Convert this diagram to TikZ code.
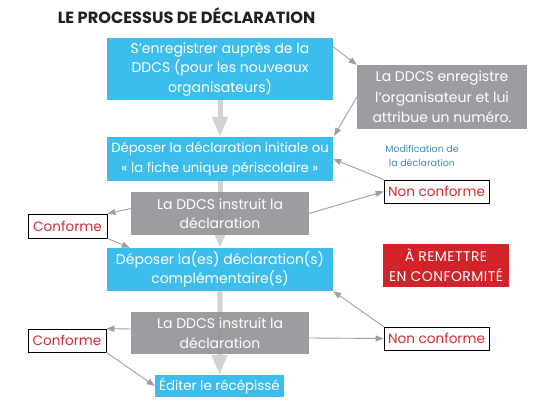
\documentclass[tikz,border=0pt]{standalone}
\usepackage{fontspec}
\setmainfont{Poppins}
\usetikzlibrary{arrows.meta,calc}
\definecolor{bluefill}{HTML}{3DBDEC}
\definecolor{grayfill}{HTML}{939598}
\definecolor{redfill}{HTML}{D2232A}
\definecolor{biggray}{HTML}{D1D3D4}
\definecolor{thingray}{HTML}{9D9FA2}
\definecolor{redtext}{HTML}{D72A31}
\definecolor{labeltext}{HTML}{3E8DB3}
\definecolor{titletext}{HTML}{231F20}
\tikzset{
  boxtext/.style={font=\fontsize{14}{19.5}\selectfont, align=center, inner sep=0pt, text=white},
  bluebox/.style={boxtext, fill=bluefill, minimum width=226pt},
  graybox/.style={boxtext, fill=grayfill, fill opacity=0.92, text opacity=1, minimum width=178pt},
  redbox/.style={boxtext, fill=redfill, font=\fontsize{14}{20}\selectfont\addfontfeatures{LetterSpace=3}},
  statebox/.style={draw=black, line width=0.8pt, fill=white, text=redtext, font=\fontsize{13.6}{16}\selectfont, inner sep=0pt, minimum height=23pt},
  bigarrow/.style={draw=biggray, line width=5pt, -{Triangle[length=20pt,width=15pt]}},
  thinarrow/.style={draw=thingray, line width=0.9pt, -{Triangle[length=8pt,width=6pt]}}
}
\begin{document}
\begin{tikzpicture}[x=1pt,y=-1pt]
\useasboundingbox (0,0) rectangle (540,411);
\node[font=\fontsize{16.2}{18}\selectfont\bfseries, text=titletext, inner sep=0pt] (title) at (186.5,16) {LE PROCESSUS DE DÉCLARATION};
% blue boxes
\node[bluebox, minimum height=62pt] (b1) at (220,69) {S’enregistrer auprès de la\\DDCS (pour les nouveaux\\organisateurs)};
\node[bluebox, minimum height=44pt, font=\fontsize{13.2}{19.5}\selectfont] (b2) at (220,159) {Déposer la déclaration initiale ou\\« la fiche unique périscolaire »};
\node[bluebox, minimum height=43pt] (b3) at (220,269.5) {Déposer la(es) déclaration(s)\\complémentaire(s)};
\node[bluebox, minimum width=129pt, minimum height=22pt, font=\fontsize{13.4}{16}\selectfont] (b4) at (219.5,386) {Éditer le récépissé};
% big arrows
\draw[bigarrow] (b1.south) -- (b2.north);
\draw[bigarrow] (b2.south) -- (b3.north);
\draw[bigarrow] (b3.south) -- (b4.north);
% gray boxes
\node[graybox, minimum width=170pt, minimum height=64pt, font=\fontsize{14}{20.5}\selectfont] (gA) at (442,97) {La DDCS enregistre\\l’organisateur et lui\\attribue un numéro.};
\node[graybox, minimum height=43pt] (gB) at (220,213.5) {La DDCS instruit la\\déclaration};
\node[graybox, minimum height=42pt] (gC) at (220,333) {La DDCS instruit la\\déclaration};
% red box
\node[redbox, minimum width=126pt, minimum height=43pt] (rb) at (446,265.5) {À REMETTRE\\EN CONFORMITÉ};
% label
\node[font=\fontsize{9.5}{14}\selectfont, text=labeltext, align=center, inner sep=0pt] (ml) at (422,156) {Modification de\\la déclaration};
% state boxes
\node[statebox, minimum width=105pt] (nc1) at (436.5,191.5) {Non conforme};
\node[statebox, minimum width=79pt, minimum height=24pt] (c1) at (67.5,226) {Conforme};
\node[statebox, minimum width=78pt] (c2) at (67,340.5) {Conforme};
\node[statebox, minimum width=105pt] (nc2) at (436.5,338.5) {Non conforme};
% thin arrows
\draw[thinarrow] ($(b1.north east)+(0,9)$) -- (gA.north west);
\draw[thinarrow] (gA.west) -- ($(b2.north east)+(1,-1)$);
\draw[thinarrow] (nc1.north west) -- (b2.east);
\draw[thinarrow] (gB.east) -- (nc1.west);
\draw[thinarrow] ($(gB.west)+(0,-5)$) -- (c1.north east);
\draw[thinarrow] (c1.south east) -- ($(b3.north west)+(23,0)$);
\draw[thinarrow] (nc2.north west) -- (b3.south east);
\draw[thinarrow] ($(gC.east)+(0,5)$) -- (nc2.west);
\draw[thinarrow] ($(gC.west)+(0,-4)$) -- (c2.north east);
\draw[thinarrow] (c2.south east) -- (b4.west);
\end{tikzpicture}
\end{document}
